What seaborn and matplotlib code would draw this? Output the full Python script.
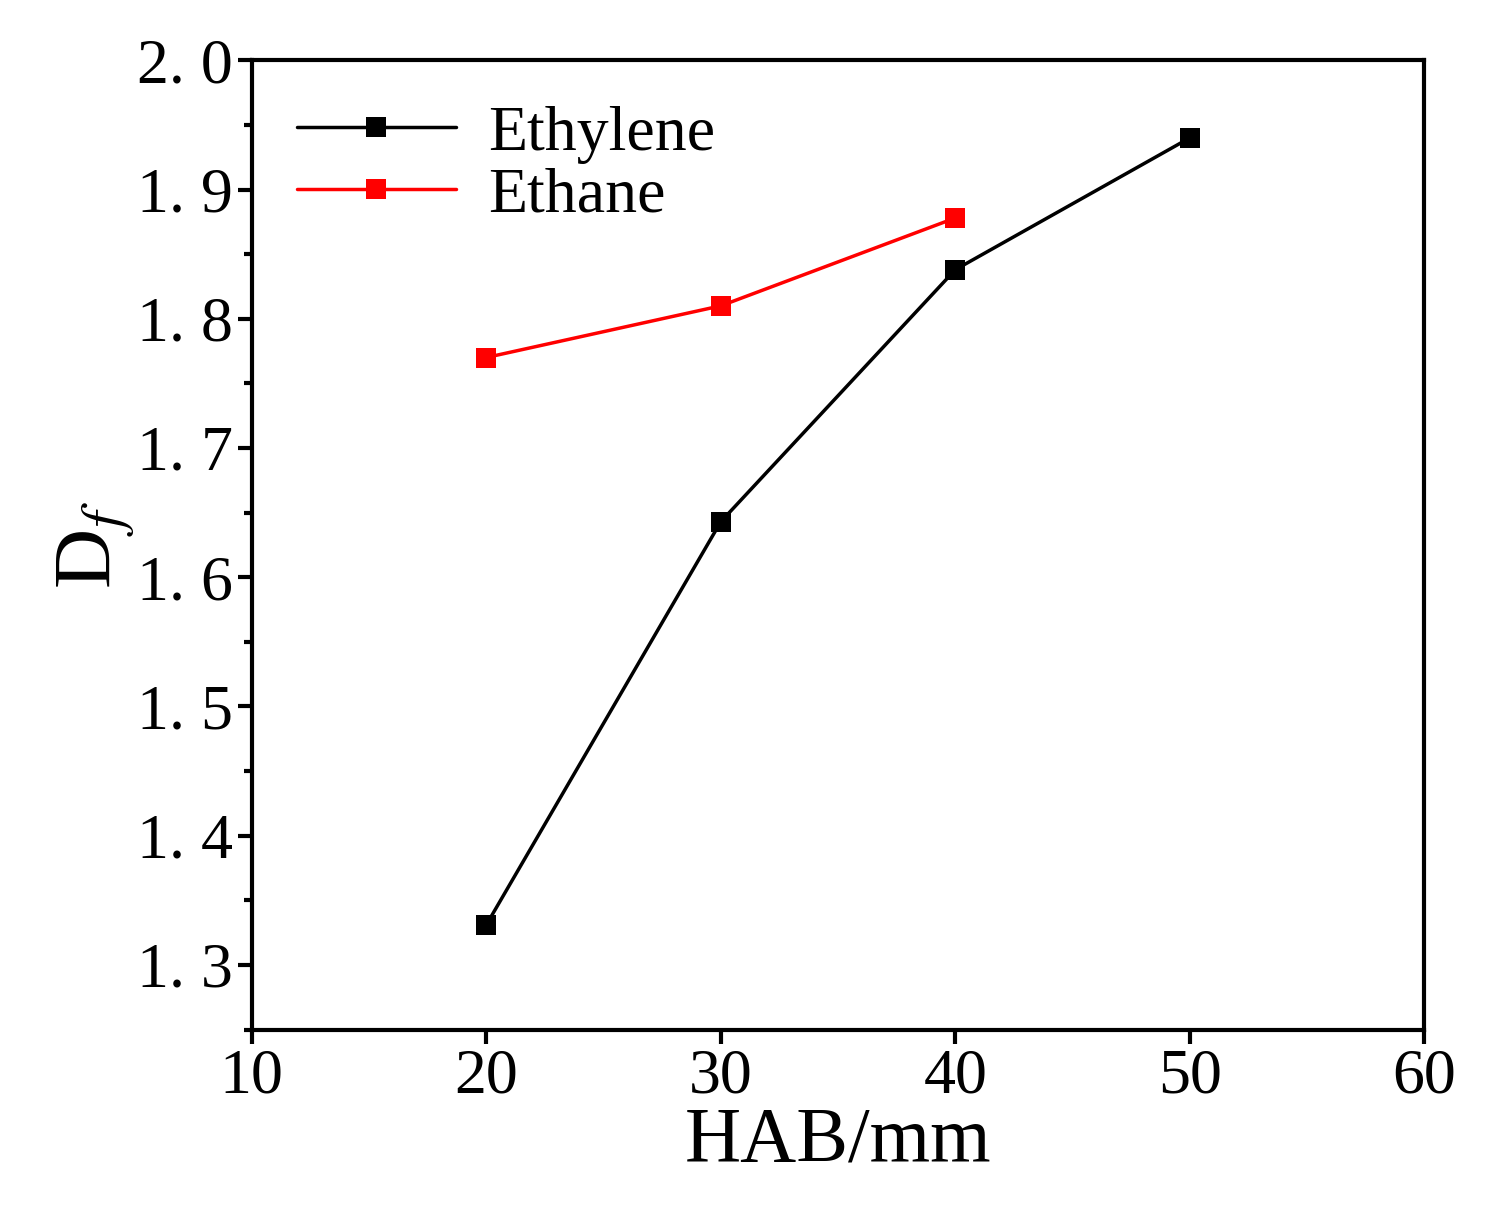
import matplotlib
matplotlib.use("Agg")
import matplotlib.pyplot as plt
import seaborn as sns
import pandas as pd
from matplotlib.ticker import MultipleLocator

# data
hab_ethylene = [20, 30, 40, 50]
df_ethylene = [1.331, 1.643, 1.838, 1.940]
hab_ethane = [20, 30, 40]
df_ethane = [1.770, 1.810, 1.878]

df = pd.concat([
    pd.DataFrame({"HAB": hab_ethylene, "Df": df_ethylene, "gas": "Ethylene"}),
    pd.DataFrame({"HAB": hab_ethane, "Df": df_ethane, "gas": "Ethane"}),
])

sns.set_style("ticks")
plt.rcParams['font.family'] = ['Liberation Serif', 'DejaVu Serif']
plt.rcParams['mathtext.fontset'] = 'stix'
for k in ['text.color', 'axes.labelcolor', 'xtick.color', 'ytick.color', 'axes.edgecolor']:
    plt.rcParams[k] = 'black'

fig = plt.figure(figsize=(14.9, 12.3), dpi=100)
ax = fig.add_axes([0.169, 0.163, 0.787, 0.788])

sns.lineplot(data=df, x="HAB", y="Df", hue="gas", palette={"Ethylene": "black", "Ethane": "#ff0000"},
             marker="s", markersize=15, markeredgewidth=0, linewidth=2.5, ax=ax)

ax.set_xlim(10, 60)
ax.set_ylim(1.25, 2.0)
ax.xaxis.set_major_locator(MultipleLocator(10))
ax.yaxis.set_minor_locator(MultipleLocator(0.05))
ax.set_yticks([1.3, 1.4, 1.5, 1.6, 1.7, 1.8, 1.9, 2.0])
ax.set_yticklabels(["1. 3", "1. 4", "1. 5", "1. 6", "1. 7", "1. 8", "1. 9", "2. 0"])
ax.tick_params(axis="both", which="major", labelsize=46, length=10, width=3)
ax.tick_params(axis="y", which="minor", length=6, width=3)
for s in ax.spines.values():
    s.set_linewidth(3)

ax.set_xlabel("HAB/mm", fontsize=56, labelpad=0)
ax.set_ylabel(r"D$_f$", fontsize=60, labelpad=0)

leg = ax.legend(loc="upper left", fontsize=46, frameon=False, handlelength=2.5,
                borderaxespad=0.3, handletextpad=0.5, labelspacing=0.05)

fig.savefig("out.png", dpi=100)
